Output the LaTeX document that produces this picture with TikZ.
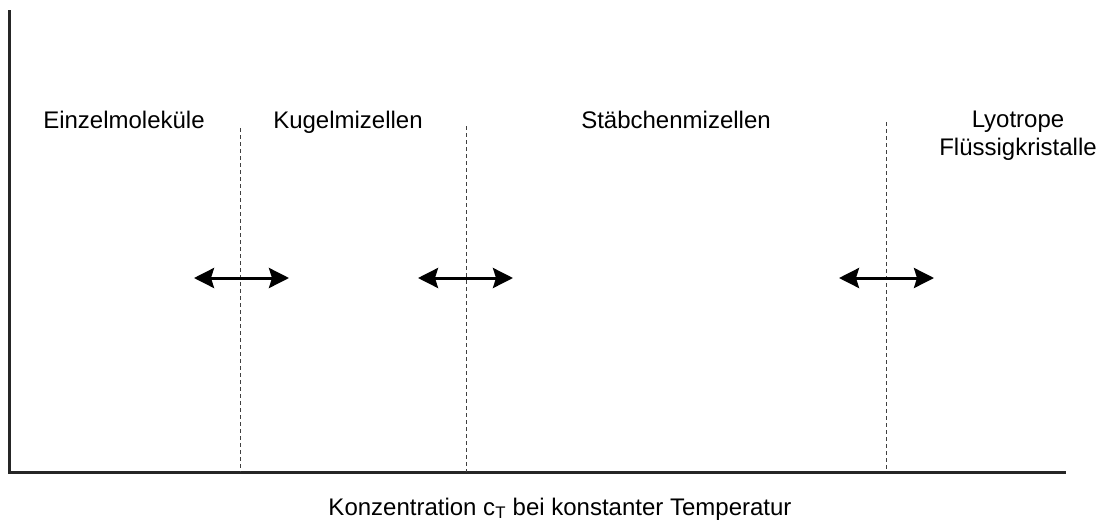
\documentclass[tikz,border=0pt]{standalone}
\usepackage{fontspec}
\setmainfont{Liberation Sans}
\usetikzlibrary{arrows.meta}
\begin{document}
\begin{tikzpicture}[x=1pt,y=-1pt,
  axis/.style={line width=3pt,draw=black!85},
  sep/.style={line width=0.8pt,draw=black!75,dash pattern=on 4pt off 3pt},
  trans/.style={line width=3pt,{Stealth[length=20pt,width=20pt,inset=3pt]}-{Stealth[length=20pt,width=20pt,inset=3pt]}},
  lbl/.style={font=\fontsize{24}{28}\selectfont,inner sep=0pt,anchor=base}]
\useasboundingbox (0,0) rectangle (1102,522);
\coordinate (top) at (9,11);
\coordinate (orig) at (9,472);
\coordinate (xend) at (1064,472);
\draw[axis,line cap=rect] (top) -- (orig) -- (xend);
% separators
\coordinate (s1t) at (240,128); \coordinate (s1b) at (240,472);
\coordinate (s2t) at (466,126); \coordinate (s2b) at (466,472);
\coordinate (s3t) at (886,122); \coordinate (s3b) at (886,472);
\draw[sep] (s1t) -- (s1b);
\draw[sep] (s2t) -- (s2b);
\draw[sep] (s3t) -- (s3b);
% arrows
\coordinate (a1l) at (194,278); \coordinate (a1r) at (289,278);
\coordinate (a2l) at (418,278); \coordinate (a2r) at (513,278);
\coordinate (a3l) at (839,278); \coordinate (a3r) at (934,278);
\draw[trans] (a1l) -- (a1r);
\draw[trans] (a2l) -- (a2r);
\draw[trans] (a3l) -- (a3r);
% labels
\node[lbl] (einzel) at (124,128) {Einzelmoleküle};
\node[lbl] (kugel) at (348,128) {Kugelmizellen};
\node[lbl] (stab) at (676,128) {Stäbchenmizellen};
\node[lbl] (lyo1) at (1018,127) {Lyotrope};
\node[lbl] (lyo2) at (1018,155) {Flüssigkristalle};
\node[lbl] (xlabel) at (560,515) {Konzentration c\textsubscript{T} bei konstanter Temperatur};
\end{tikzpicture}
\end{document}
